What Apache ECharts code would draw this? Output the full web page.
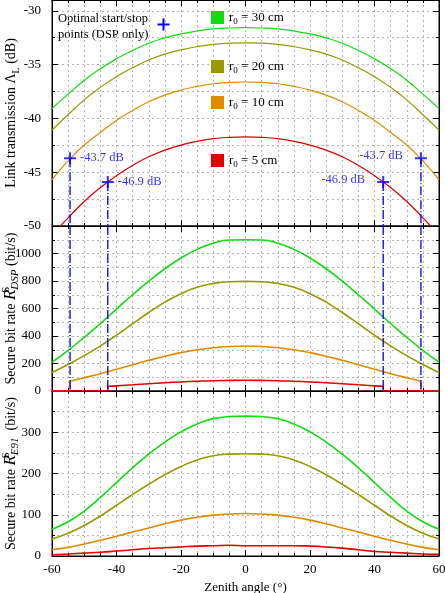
<!DOCTYPE html>
<html><head><meta charset="utf-8">
<script src="https://cdn.jsdelivr.net/npm/echarts@6/dist/echarts.min.js"></script>
<style>html,body{margin:0;padding:0;background:#fff}#c{width:445px;height:593px}</style>
</head><body><div id="c"></div>
<script>
// ---------- data ----------
const angles = [-60,-55,-50,-45,-40,-35,-30,-25,-20,-15,-10,-5,0,5,10,15,20,25,30,35,40,45,50,55,60];
// Link transmission (dB)
const linkR30 = [-39.08,-37.75,-36.46,-35.38,-34.46,-33.69,-33.02,-32.52,-32.15,-31.88,-31.69,-31.60,-31.57,-31.60,-31.69,-31.88,-32.15,-32.52,-33.02,-33.69,-34.46,-35.38,-36.46,-37.75,-39.08];
const linkR20 = [-41.08,-39.66,-38.28,-37.12,-36.13,-35.30,-34.58,-34.03,-33.63,-33.33,-33.12,-33.01,-32.98,-33.01,-33.12,-33.33,-33.63,-34.03,-34.58,-35.30,-36.13,-37.12,-38.28,-39.66,-41.08];
const linkR10 = [-45.69,-43.95,-42.48,-41.31,-40.20,-39.27,-38.46,-37.84,-37.37,-37.03,-36.78,-36.66,-36.62,-36.66,-36.78,-37.03,-37.37,-37.84,-38.46,-39.27,-40.20,-41.31,-42.48,-43.95,-45.69];
const linkR5  = [-50.83,-49.24,-47.72,-46.43,-45.32,-44.38,-43.57,-42.95,-42.48,-42.13,-41.88,-41.76,-41.72,-41.76,-41.88,-42.13,-42.48,-42.95,-43.57,-44.38,-45.32,-46.43,-47.72,-49.24,-50.83];
// Optimal start/stop points
const markerX = [-54.4, -42.7, 42.7, 54.4];
const markerY = [-43.7, -45.9, -45.9, -43.7];
const markerLabels = ['-43.7 dB', '-46.9 dB', '-46.9 dB', '-43.7 dB'];
// Secure bit rate DSP (bit/s)
const dspR30 = [210,296,390,491,596,700,799,889,967,1030,1075,1098,1100,1098,1075,1030,967,889,799,700,596,491,390,296,210];
const dspR20 = [135,193,257,328,406,489,571,646,708,754,782,795,797,795,782,754,708,646,571,489,406,328,257,193,135];
// r0 = 10 cm and 5 cm: zero outside the optimal start/stop angles
const dspR10X = [-54.4,-50,-45,-40,-35,-30,-25,-20,-15,-10,-5,0,5,10,15,20,25,30,35,40,45,50,54.4];
const dspR10Y = [71,96,126,158,191,223,253,279,300,315,324,327,324,315,300,279,253,223,191,158,126,96,71];
const dspR5X = [-42.7,-40,-35,-30,-25,-20,-15,-10,-5,0,5,10,15,20,25,30,35,40,42.7];
const dspR5Y = [34,37,45,53,60,66,71,75,77,78,77,75,71,66,60,53,45,37,34];
// Secure bit rate E91 (bit/s)
const e91R30 = [65,83,109,142,178,214,247,276,301,320,333,338,339,338,333,320,301,276,247,214,178,142,109,83,65];
const e91R20 = [41,55,74,97,123,149,174,197,217,233,243,247,248,247,243,233,217,197,174,149,123,97,74,55,41];
const e91R10 = [15,21,29,38,48,58,68,78,87,94,99,102,103,102,99,94,87,78,68,58,48,38,29,21,15];
const e91R5  = [3,5,7,9,12,15,18,20,22,24,25,26,25,25,25,25,24,22,19,15,11,9,7,5,4];

const names = ['r0 = 30 cm','r0 = 20 cm','r0 = 10 cm','r0 = 5 cm'];
const legendLabels = ['30 cm','20 cm','10 cm','5 cm'];
const colors = ['#10dd10','#999900','#e08a00','#e00000'];
const blue = '#0000ee';
const FONT = 'Liberation Serif';

// ---------- helpers ----------
const pair = (xs, ys) => xs.map((x, i) => [x, ys[i]]);
const gridLine = {color:'#b4b4b4', width:1, type:[2,3]};

function xAx(g, pos, labels) {
  return {
    type:'value', gridIndex:g, position:pos, min:-60, max:60, interval:20,
    axisLine:{show:true, onZero:false, lineStyle:{color:'#000', width:1}},
    axisTick:{show:true, inside:true, length:6, lineStyle:{color:'#000'}},
    minorTick:{show:true, splitNumber:4, length:3, lineStyle:{color:'#000'}},
    splitLine:{show:pos==='bottom', lineStyle:gridLine},
    minorSplitLine:{show:pos==='bottom', lineStyle:gridLine},
    axisLabel:{show:labels, margin:7, color:'#000', fontFamily:FONT, fontSize:13},
    name: labels ? 'Zenith angle (°)' : '',
    nameLocation:'middle', nameGap:25, nameMoveOverlap:false,
    nameTextStyle:{color:'#000', fontFamily:FONT, fontSize:13}
  };
}
function yAx(g, pos, min, max, interval, name) {
  return {
    type:'value', gridIndex:g, position:pos, min:min, max:max, interval:interval,
    axisLine:{show:true, onZero:false, lineStyle:{color:'#000', width:1}},
    axisTick:{show:true, inside:true, length:6, lineStyle:{color:'#000'}},
    minorTick:{show:true, splitNumber:2, length:3, lineStyle:{color:'#000'}},
    splitLine:{show:pos==='left', lineStyle:gridLine},
    minorSplitLine:{show:pos==='left', lineStyle:gridLine},
    axisLabel:{show:pos==='left', showMaxLabel:false, margin:11, color:'#000', fontFamily:FONT, fontSize:13,
      formatter: v => String(v)},
    name: pos==='left' ? name : '',
    nameLocation:'middle', nameRotate:90, nameGap:31, nameMoveOverlap:false,
    nameTextStyle:{
      color:'#000', fontFamily:FONT, fontSize:14,
      rich:{
        n:{fontFamily:FONT, fontSize:14, color:'#000', lineHeight:20, verticalAlign:'middle'},
        sub:{fontFamily:FONT, fontSize:10, color:'#000', verticalAlign:'bottom', lineHeight:20},
        R:{fontFamily:FONT, fontSize:17, fontStyle:'italic', color:'#000', verticalAlign:'middle', lineHeight:20},
        sup:{fontFamily:FONT, fontSize:11, color:'#000', verticalAlign:'top', width:0, lineHeight:20},
        subi:{fontFamily:FONT, fontSize:11, fontStyle:'italic', color:'#000', verticalAlign:'bottom', lineHeight:20}
      }
    }
  };
}

const xAxis = [], yAxis = [];
const yCfg = [
  [-50, -29, 5, '{n|Link transmission Λ}{sub|L}{n| (dB)}'],
  [0, 1200, 200, '{n|Secure bit rate }{R|R}{sup|S}{subi|DSP}{n| (bit/s)}'],
  [0, 400, 100, '{n|Secure bit rate }{R|R}{sup|S}{subi|E91}{n|  (bit/s)}']
];
for (let g = 0; g < 3; g++) {
  xAxis.push(xAx(g, 'bottom', g === 2));
  xAxis.push(xAx(g, 'top', false));
  const c = yCfg[g];
  yAxis.push(yAx(g, 'left', c[0], c[1], c[2], c[3]));
  yAxis.push(yAx(g, 'right', c[0], c[1], c[2], ''));
}

const series = [];
function curve(g, name, color, data, width, smooth) {
  series.push({
    type:'line', name:name, xAxisIndex:2*g, yAxisIndex:2*g, data:data,
    smooth:smooth, showSymbol:false, symbol:'none', color:color,
    lineStyle:{color:color, width:width}, clip:true, silent:true, z:2
  });
}
const linkSets = [linkR30, linkR20, linkR10, linkR5];
const e91Sets = [e91R30, e91R20, e91R10, e91R5];
for (let i = 0; i < 4; i++) curve(0, names[i], colors[i], pair(angles, linkSets[i]), 1.2, 0.5);
curve(1, names[0], colors[0], pair(angles, dspR30), 1.6, 0.5);
curve(1, names[1], colors[1], pair(angles, dspR20), 1.6, 0.5);
// cut-off curves: smooth inner part + zero segments with jumps
[[dspR10X, dspR10Y, 2], [dspR5X, dspR5Y, 3]].forEach(([xs, ys, ci]) => {
  curve(1, names[ci], colors[ci], pair(xs, ys), 1.6, 0.5);
  const n = xs.length - 1;
  curve(1, names[ci], colors[ci], [[-60, 0], [xs[0], 0], [xs[0], ys[0]]], 1.6, false);
  curve(1, names[ci], colors[ci], [[xs[n], ys[n]], [xs[n], 0], [60, 0]], 1.6, false);
});
for (let i = 0; i < 4; i++) curve(2, names[i], colors[i], pair(angles, e91Sets[i]), 1.6, 0.5);

// dash-dot vertical guides
markerX.forEach((x, i) => {
  series.push({type:'line', xAxisIndex:0, yAxisIndex:0, data:[[x, markerY[i]], [x, -50]],
    symbol:'none', silent:true, z:3, lineStyle:{color:blue, width:1.3, type:[9,2,1,2]}});
  series.push({type:'line', xAxisIndex:2, yAxisIndex:2, data:[[x, 1200], [x, 0]],
    symbol:'none', silent:true, z:3, lineStyle:{color:blue, width:1.3, type:[9,2,1,2]}});
});
// markers
series.push({
  type:'scatter', xAxisIndex:0, yAxisIndex:0, z:5, silent:true,
  symbol:'path://M0,-10L0,10M-10,0L10,0', symbolSize:12,
  itemStyle:{color:'rgba(0,0,0,0)', borderColor:blue, borderWidth:2},
  data: markerX.map((x, i) => ({
    value:[x, markerY[i]],
    label:{show:true, formatter:markerLabels[i], position: x < 0 ? 'right' : 'left',
      distance: x < 0 ? 3 : 11, offset: x < 0 ? [0, 0] : [0, -2],
      color:blue, fontFamily:FONT, fontSize:12.5}
  }))
});

const legends = [[211, 11], [211, 60], [211, 96], [211, 154]].map((p, i) => ({
  data:[names[i]], left:p[0], top:p[1], orient:'vertical', icon:'rect', padding:0,
  itemWidth:13, itemHeight:13, itemGap:0, selectedMode:false,
  formatter: () => '{a|r}{s|0}{a| = ' + legendLabels[i] + '}',
  textStyle:{color:'#000', fontFamily:FONT, fontSize:13, padding:[0,0,0,0],
    rich:{a:{fontFamily:FONT, fontSize:13, color:'#000', verticalAlign:'middle', lineHeight:17},
          s:{fontFamily:FONT, fontSize:9, color:'#000', verticalAlign:'bottom', lineHeight:17}}}
}));

const gridBase = {left:52, right:6, show:true, borderColor:'#000', borderWidth:1,
  backgroundColor:'transparent', containLabel:false, outerBoundsMode:'none'};
const chart = echarts.init(document.getElementById('c'), null, {renderer:'canvas'});
chart.setOption({
  animation:false,
  backgroundColor:'#fff',
  grid:[
    Object.assign({top:0, height:226}, gridBase),
    Object.assign({top:226, height:165}, gridBase),
    Object.assign({top:391, height:165}, gridBase)
  ],
  xAxis:xAxis, yAxis:yAxis, series:series, legend:legends,
  graphic:[
    {type:'text', left:58, top:11, silent:true,
      style:{text:'Optimal start/stop\npoints (DSP only)', fill:'#000', font:'12.5px "Liberation Serif"', lineHeight:16}},
    {type:'group', left:155, top:16, silent:true, children:[
      {type:'line', shape:{x1:0, y1:6, x2:12, y2:6}, style:{stroke:blue, lineWidth:2}},
      {type:'line', shape:{x1:6, y1:0, x2:6, y2:12}, style:{stroke:blue, lineWidth:2}}
    ]}
  ]
});
</script>
</body></html>
